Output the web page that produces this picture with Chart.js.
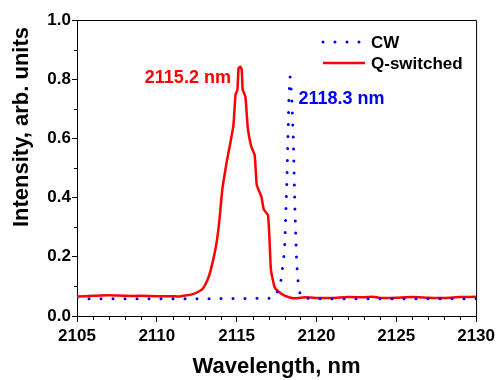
<!DOCTYPE html>
<html>
<head>
<meta charset="utf-8">
<script src="https://cdn.jsdelivr.net/npm/chart.js@4/dist/chart.umd.min.js"></script>
<style>
  body { margin: 0; background: #fff; }
  canvas { display: block; }
</style>
</head>
<body>
<canvas id="myChart" width="499" height="380"></canvas>
<script>
// CW laser spectrum (dotted blue)
var cwWave = [2105, 2108, 2112, 2117.2, 2117.45, 2117.75, 2118.0, 2118.15, 2118.28, 2118.35, 2118.45, 2118.55, 2118.65, 2118.76, 2118.88, 2119.05, 2120, 2125, 2130];
var cwInt  = [0.058, 0.058, 0.058, 0.06, 0.067, 0.11, 0.22, 0.46, 0.75, 0.808, 0.74, 0.6, 0.36, 0.18, 0.095, 0.062, 0.058, 0.058, 0.058];

// Q-switched spectrum (solid red)
var qsWave = [2105, 2106, 2107, 2108, 2109, 2110, 2111, 2111.4, 2111.8, 2112.2, 2112.6, 2112.9, 2113.2, 2113.4, 2113.7, 2113.9, 2114.1, 2114.4, 2114.6, 2114.8,
              2114.93, 2115.05, 2115.12, 2115.24, 2115.32, 2115.38, 2115.55, 2115.7, 2115.92, 2116.13, 2116.26, 2116.55, 2116.7, 2116.96, 2117.05, 2117.15,
              2117.38, 2117.63, 2118.04, 2118.56, 2119.3, 2120.1, 2121, 2122, 2123, 2123.5, 2124, 2125, 2126, 2127, 2128, 2129, 2130];
var qsInt  = [0.066, 0.068, 0.07, 0.068, 0.068, 0.067, 0.067, 0.066, 0.069, 0.073, 0.082, 0.094, 0.125, 0.16, 0.234, 0.313, 0.426, 0.527, 0.583, 0.645,
              0.747, 0.764, 0.837, 0.842, 0.831, 0.764, 0.741, 0.634, 0.572, 0.544, 0.443, 0.403, 0.36, 0.341, 0.268, 0.155,
              0.097, 0.082, 0.068, 0.06, 0.063, 0.061, 0.061, 0.064, 0.063, 0.065, 0.061, 0.062, 0.064, 0.062, 0.061, 0.064, 0.065];

// axis ticks
var xTicks = [2105, 2110, 2115, 2120, 2125, 2130];
var yTicks = [0.0, 0.2, 0.4, 0.6, 0.8, 1.0];

// peak labels: text, anchor wavelength, anchor intensity
var peakLabels = [
    { text: '2115.2 nm', x: 2114.64, y: 0.786, color: '#ff0000', align: 'right' },
    { text: '2118.3 nm', x: 2118.87, y: 0.716, color: '#0000ff', align: 'left' }
];

function toPoints(xs, ys) {
    return xs.map(function(x, i) { return { x: x, y: ys[i] }; });
}

var framePlugin = {
    id: 'frame',
    afterDraw: function(chart) {
        var ctx = chart.ctx, a = chart.chartArea;
        var xs = chart.scales.x, ys = chart.scales.y;
        ctx.save();
        // top and right edges of the box
        ctx.strokeStyle = '#000';
        ctx.lineWidth = 1;
        ctx.beginPath();
        ctx.moveTo(a.left, a.top + 0.5);
        ctx.lineTo(a.right + 0.5, a.top + 0.5);
        ctx.lineTo(a.right + 0.5, a.bottom);
        ctx.stroke();

        // minor ticks
        ctx.beginPath();
        for (var w = 2106; w < 2130; w++) {
            if (w % 5 == 0) continue;
            var px = Math.round(xs.getPixelForValue(w)) + 0.5;
            ctx.moveTo(px, a.bottom);
            ctx.lineTo(px, a.bottom + 4);
        }
        for (var v = 0.1; v < 1; v += 0.2) {
            var py = Math.round(ys.getPixelForValue(v)) + 0.5;
            ctx.moveTo(a.left, py);
            ctx.lineTo(a.left - 3, py);
        }
        ctx.stroke();

        // peak labels
        ctx.font = 'bold 18px "Liberation Sans", Arial, sans-serif';
        ctx.textBaseline = 'alphabetic';
        peakLabels.forEach(function(p) {
            ctx.fillStyle = p.color;
            ctx.textAlign = p.align;
            ctx.fillText(p.text, xs.getPixelForValue(p.x), ys.getPixelForValue(p.y));
        });

        // legend
        var lx = 323, ly = 42;
        ctx.font = 'bold 17px "Liberation Sans", Arial, sans-serif';
        ctx.textAlign = 'left';
        ctx.textBaseline = 'middle';
        chart.data.datasets.forEach(function(ds, i) {
            var y = ly + i * 21;
            ctx.strokeStyle = ds.borderColor;
            ctx.lineWidth = ds.borderWidth;
            ctx.lineCap = ds.borderCapStyle || 'butt';
            ctx.setLineDash(ds.borderDash || []);
            ctx.beginPath();
            ctx.moveTo(lx, y);
            ctx.lineTo(lx + 42, y);
            ctx.stroke();
            ctx.setLineDash([]);
            ctx.fillStyle = '#000';
            ctx.fillText(ds.label, lx + 48, y + 1);
        });

        // y axis title
        ctx.font = 'bold 22px "Liberation Sans", Arial, sans-serif';
        ctx.fillStyle = '#000';
        ctx.translate(22, 127);
        ctx.rotate(-Math.PI / 2);
        ctx.textAlign = 'center';
        ctx.textBaseline = 'middle';
        ctx.fillText('Intensity, arb. units', 0, 0);
        ctx.restore();
    }
};

var ctx = document.getElementById('myChart').getContext('2d');
var chart = new Chart(ctx, {
    type: 'line',
    data: {
        datasets: [{
            label: 'CW',
            data: toPoints(cwWave, cwInt),
            borderColor: '#0000ff',
            borderWidth: 3,
            borderDash: [0, 12],
            borderCapStyle: 'round',
            pointRadius: 0,
            tension: 0,
            fill: false
        }, {
            label: 'Q-switched',
            data: toPoints(qsWave, qsInt),
            borderColor: '#ff0000',
            borderWidth: 2.5,
            pointRadius: 0,
            tension: 0.15,
            fill: false
        }]
    },
    options: {
        responsive: false,
        animation: false,
        devicePixelRatio: 1,
        layout: { padding: { top: 20, right: 20, left: 0, bottom: 0 } },
        plugins: {
            legend: { display: false },
            tooltip: { enabled: false }
        },
        scales: {
            x: {
                type: 'linear',
                min: 2105,
                max: 2130,
                afterFit: function(s) { s.height = 64; },
                afterBuildTicks: function(s) { s.ticks = xTicks.map(function(v) { return { value: v }; }); },
                ticks: {
                    color: '#000',
                    padding: 4,
                    maxRotation: 0,
                    font: { family: '"Liberation Sans", Arial', size: 17, weight: 'bold' },
                    callback: function(v) { return v; }
                },
                grid: { drawOnChartArea: false, drawTicks: true, tickLength: 6, color: '#000' },
                border: { display: true, color: '#000', width: 1 },
                title: {
                    display: true,
                    text: 'Wavelength, nm',
                    color: '#000',
                    padding: { top: 0, bottom: 0 },
                    font: { family: '"Liberation Sans", Arial', size: 22, weight: 'bold' }
                }
            },
            y: {
                min: 0,
                max: 1,
                afterFit: function(s) { s.width = 77; },
                afterBuildTicks: function(s) { s.ticks = yTicks.map(function(v) { return { value: v }; }); },
                ticks: {
                    color: '#000',
                    padding: 1,
                    font: { family: '"Liberation Sans", Arial', size: 17, weight: 'bold' },
                    callback: function(v) { return v.toFixed(1); }
                },
                grid: { drawOnChartArea: false, drawTicks: true, tickLength: 5, color: '#000' },
                border: { display: true, color: '#000', width: 1 }
            }
        }
    },
    plugins: [framePlugin]
});
</script>
</body>
</html>
